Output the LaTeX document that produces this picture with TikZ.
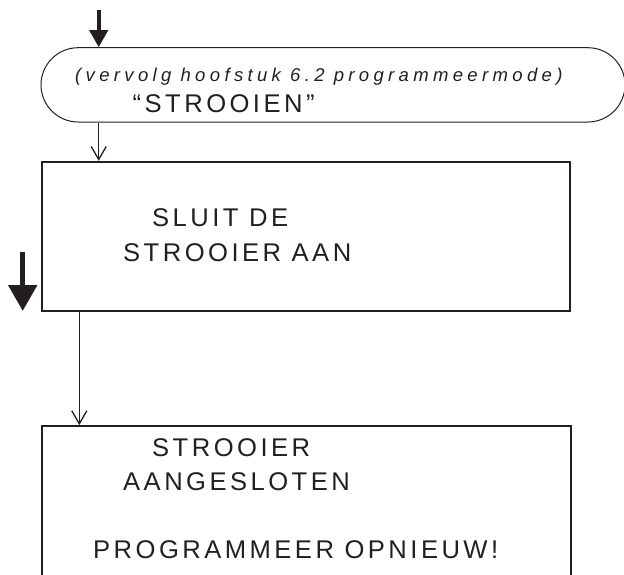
\documentclass[tikz,border=0pt]{standalone}
\usepackage{fontspec}
\setmainfont{Liberation Sans}
\newfontfamily\trackfont{Liberation Sans}[LetterSpace=13.5]
\newfontfamily\ittrackfont{Liberation Sans}[LetterSpace=23.5]
\usetikzlibrary{arrows.meta,shapes.misc}
\definecolor{ink}{HTML}{231F20}
\newcommand\bigwsp{\hspace{10.6pt}}
\newcommand\itwsp{\hspace{9.2pt}}
\begin{document}
\begin{tikzpicture}[x=1pt,y=-1pt,
  termbox/.style={draw=ink, line width=1pt, shape=rounded rectangle,
    minimum width=584pt, minimum height=74.3pt, inner sep=0pt},
  procbox/.style={draw=ink, line width=1.8pt, rectangle, inner sep=0pt},
  txt/.style={inner sep=0pt, anchor=base west, text=ink,
    font={\trackfont\fontsize{25.6}{34}\selectfont}},
  ittxt/.style={inner sep=0pt, anchor=base west, text=ink,
    font={\ittrackfont\itshape\fontsize{18.5}{22}\selectfont}},
  conn/.style={draw=ink, line width=1pt, -{Straight Barb[length=13pt,width=15pt,line width=1.3pt]}},
  bigarrow/.style={draw=ink, fill=ink, line width=4pt, -{Triangle[length=17pt,width=18pt]}},
  hugearrow/.style={draw=ink, fill=ink, line width=5.3pt, -{Triangle[length=26pt,width=28pt]}}
]
\clip (0,0) rectangle (624,574);
% shapes
\node[termbox] (term) at (333,84.85) {};
\node[procbox, minimum width=527.7pt, minimum height=149pt] (box1) at (306.15,236.2) {};
\node[procbox, minimum width=528.4pt, minimum height=194pt] (box2) at (306.5,523) {};
% texts
\node[ittxt] (t0) at (75,81) {(vervolg\itwsp hoofstuk\itwsp 6.2\itwsp programmeermode)};
\node[txt] (t1) at (132.5,112.7) {“STROOIEN”};
\node[txt] (t2) at (152,226.7) {SLUIT\bigwsp DE};
\node[txt] (t3) at (123,261.7) {STROOIER\bigwsp AAN};
\node[txt] (t4) at (152,456.7) {STROOIER};
\node[txt] (t5) at (123,490.7) {AANGESLOTEN};
\node[txt] (t6) at (93,558.3) {PROGRAMMEER\bigwsp OPNIEUW!};
% connectors
\coordinate (in1) at (98.7,10);
\draw[bigarrow] (in1) -- (in1 |- term.north);
\draw[conn] (term.south -| in1) -- (box1.north -| in1);
\coordinate (via) at (79.3,311);
\draw[conn] (box1.south -| via) -- (box2.north -| via);
\coordinate (bigtop) at (22.7,251.7);
\coordinate (bigtip) at (22.7,311);
\draw[hugearrow] (bigtop) -- (bigtip);
\end{tikzpicture}
\end{document}
